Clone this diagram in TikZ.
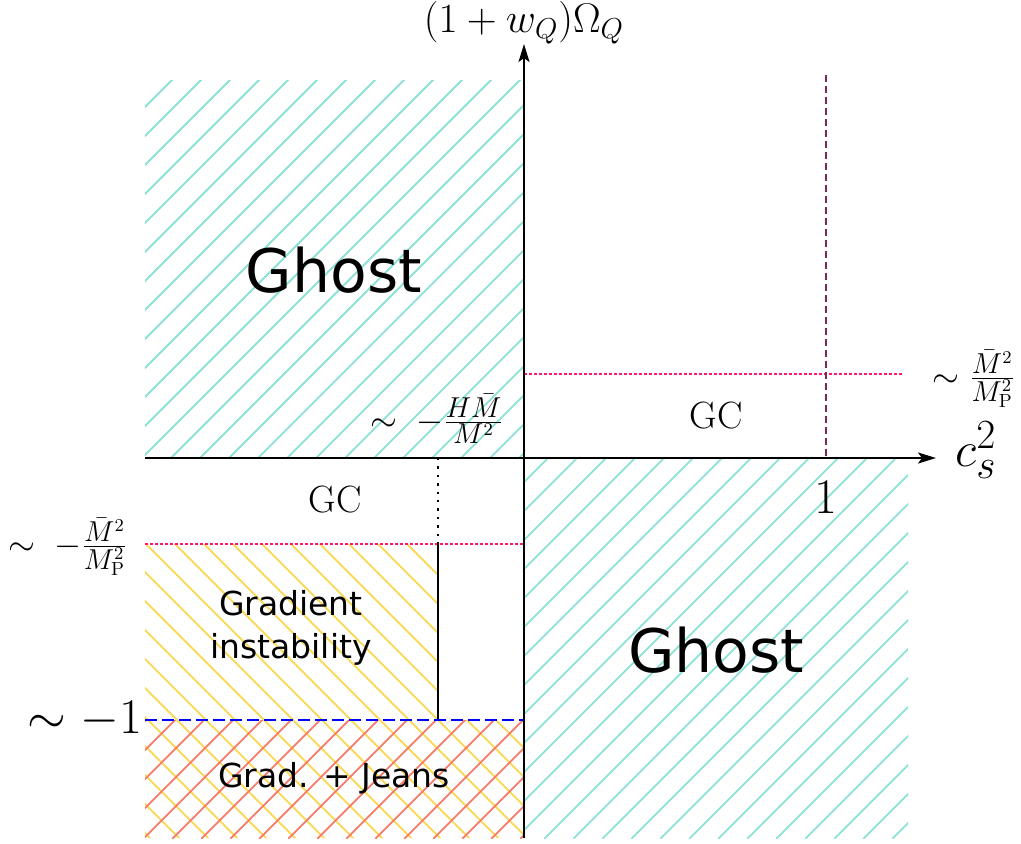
\documentclass[tikz,border=0pt]{standalone}
\usepackage{fontspec}
\setsansfont{DejaVu Sans}
\usetikzlibrary{arrows.meta}
\definecolor{hteal}{RGB}{140,226,213}
\definecolor{hyellow}{RGB}{250,217,90}
\definecolor{hred}{RGB}{248,122,105}
\definecolor{dpink}{RGB}{255,20,110}
\definecolor{dpurple}{RGB}{120,40,90}
\begin{document}
\begin{tikzpicture}[x=0.5pt,y=-0.5pt,
  hatch/.style={line width=0.9pt,line cap=rect},
  axis/.style={line width=1pt,-{Stealth[length=9pt,width=5.5pt,inset=2pt]}},
  pinkdot/.style={dpink,line width=0.6pt,dash pattern=on 1.5pt off 1pt},
  ghost/.style={font=\sffamily\fontsize{30}{36}\selectfont},
  region/.style={font=\sffamily\fontsize{16.5}{21.5}\selectfont,align=center},
  gc/.style={font=\fontsize{19}{23}\selectfont},
  frac/.style={font=\fontsize{19}{23}\selectfont},
  big/.style={font=\fontsize{25}{30}\selectfont}]
\useasboundingbox (0,0) rectangle (1021,843);
% teal upper-left
\begin{scope}
\clip (145,80) rectangle (524,458);
\foreach \c in {223,252,...,1000} \draw[hatch,hteal] ({\c-80},80) -- ({\c-458},458);
\end{scope}
% teal lower-right
\begin{scope}
\clip (524,458) rectangle (908,838);
\foreach \c in {977,1006,...,1770} \draw[hatch,hteal] ({\c-458},458) -- ({\c-838},838);
\end{scope}
% yellow
\begin{scope}
\clip (145,544) -- (438,544) -- (438,720) -- (524,720) -- (524,838) -- (145,838) -- cycle;
\foreach \c in {-717,-688,...,-60} \draw[hatch,hyellow] ({\c+544},544) -- ({\c+838},838);
\end{scope}
% red
\begin{scope}
\clip (145,720) rectangle (524,838);
\foreach \c in {866,895,...,1370} \draw[hatch,hred] ({\c-720},720) -- ({\c-838},838);
\end{scope}
% coordinates
\coordinate (pl) at (145,544);
\coordinate (pm) at (524,544);
\coordinate (pr1) at (524,374);
\coordinate (pr2) at (903,374);
\coordinate (d0) at (438,458);
\coordinate (d1) at (438,544);
\coordinate (d2) at (438,720);
\coordinate (bl) at (145,720);
\coordinate (br) at (524,720);
\coordinate (u0) at (826,75);
\coordinate (u1) at (826,458);
\coordinate (xa) at (145,458);
\coordinate (xb) at (936,458);
\coordinate (ya) at (524,838);
\coordinate (yb) at (524,44);
% lines
\draw[pinkdot] (pl) -- (pm);
\draw[pinkdot] (pr1) -- (pr2);
\draw[line width=0.8pt,dash pattern=on 1.2pt off 3pt] (d0) -- (d1);
\draw[line width=0.6pt] (d1) -- (d2);
\draw[blue,line width=1pt,dash pattern=on 6pt off 2.5pt] (bl) -- (br);
\draw[dpurple,line width=0.75pt,dash pattern=on 3.5pt off 2pt] (u0) -- (u1);
\draw[axis] (xa) -- (xb);
\draw[axis] (ya) -- (yb);
% labels
\node[font=\fontsize{19.5}{24}\selectfont,inner sep=1pt] (ylab) at (524,23) {$(1+w_Q)\Omega_Q$};
\node[font=\fontsize{28}{32}\selectfont] (xlab) at (976,450) {$c_s^2$};
\node[big] (one) at (826,497) {$1$};
\node[big] (mone) at (85,720) {$\sim -1$};
\node[frac,inner sep=1pt] (fr) at (974,379) {$\sim\frac{\bar M^2}{M_{\mathrm{P}}^2}$};
\node[frac,inner sep=1pt] (fl) at (68,547) {$\sim\;-\frac{\bar M^2}{M_{\mathrm{P}}^2}$};
\node[frac,inner sep=1pt] (fh) at (437,419) {$\sim\;-\frac{H\bar M}{M^2}$};
\node[ghost] (g1) at (334,270) {Ghost};
\node[ghost] (g2) at (716,650) {Ghost};
\node[gc] (gc1) at (716,416) {GC};
\node[gc] (gc2) at (335,500) {GC};
\node[region] (gi) at (291,628) {Gradient\\instability};
\node[region] (gj) at (334,778) {Grad. + Jeans};
\end{tikzpicture}
\end{document}
